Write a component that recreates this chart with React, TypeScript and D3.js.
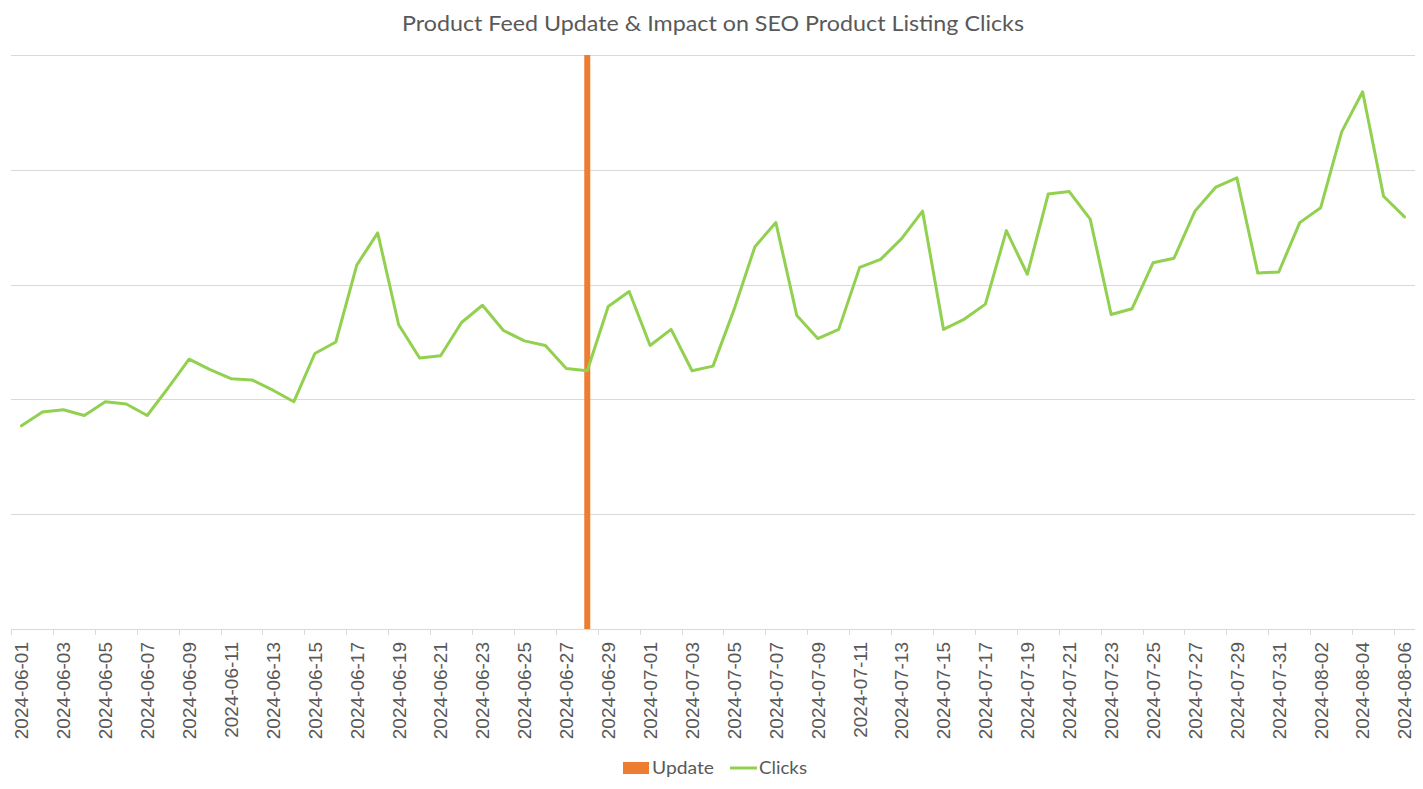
import React, { useEffect } from "react";
import * as d3 from "d3";

const dates: string[] = (() => {
  const out: string[] = [];
  for (let d = 1; d <= 30; d++) out.push(`2024-06-${String(d).padStart(2, "0")}`);
  for (let d = 1; d <= 31; d++) out.push(`2024-07-${String(d).padStart(2, "0")}`);
  for (let d = 1; d <= 6; d++) out.push(`2024-08-${String(d).padStart(2, "0")}`);
  return out;
})();

const clicks: number[] = [
  177, 189, 191, 186, 198, 196, 186, 210, 235, 226,
  218, 217, 208, 198, 240, 250, 317, 345, 265, 236,
  238, 267, 282, 260, 251, 247, 227, 225, 281, 294,
  247, 261, 225, 229, 278, 333, 354, 273, 253, 261,
  315, 322, 340, 364, 261, 270, 283, 347, 309, 379,
  381, 357, 274, 279, 319, 323, 364, 385, 393, 310,
  311, 354, 367, 433, 468, 377, 359,
];

const updateDate = "2024-06-28";
const updateValue = 500;

const yTicks: number[] = [0, 100, 200, 300, 400, 500];

const W = 1423;
const H = 789;
const left = 11;
const right = 1415;
const top = 55;
const bottom = 629;

export default function App() {
  useEffect(() => {
    document.body.style.margin = "0";
  }, []);

  const x = d3.scaleBand<string>().domain(dates).range([left, right]).padding(0);
  const y = d3.scaleLinear().domain([0, 500]).range([bottom, top]);
  const bw = x.bandwidth();
  const cx = (d: string) => (x(d) as number) + bw / 2;

  const line = d3
    .line<number>()
    .x((_, i) => cx(dates[i]))
    .y((v) => y(v));

  const grey = "#595959";
  const gridColor = "#D9D9D9";
  const green = "#92D050";
  const orange = "#ED7D31";

  const barW = 6;

  return (
    <svg
      width={W}
      height={H}
      style={{ position: "absolute", left: 0, top: 0, display: "block", background: "#fff" }}
    >
      <rect x={0} y={0} width={W} height={H} fill="#fff" />
      <text
        x={(left + right) / 2}
        y={31}
        textAnchor="middle"
        fontFamily="Lato, 'Open Sans', sans-serif"
        fontSize={21}
        fill={grey}
        textLength={622}
        lengthAdjust="spacingAndGlyphs"
      >
        Product Feed Update &amp; Impact on SEO Product Listing Clicks
      </text>

      {yTicks.map((t) => (
        <line
          key={t}
          x1={left}
          x2={right}
          y1={Math.round(y(t)) + 0.5}
          y2={Math.round(y(t)) + 0.5}
          stroke={gridColor}
          strokeWidth={1}
        />
      ))}

      {dates.map((d, i) =>
        i % 2 === 0 ? (
          <line
            key={"tk" + d}
            x1={Math.round(x(d) as number) + 0.5}
            x2={Math.round(x(d) as number) + 0.5}
            y1={bottom}
            y2={bottom + 6}
            stroke={gridColor}
            strokeWidth={1}
          />
        ) : null
      )}

      <rect
        x={cx(updateDate) - barW / 2}
        y={y(updateValue)}
        width={barW}
        height={y(0) - y(updateValue)}
        fill={orange}
      />

      <path
        d={line(clicks) || ""}
        fill="none"
        stroke={green}
        strokeWidth={3}
        strokeLinejoin="round"
        strokeLinecap="round"
      />

      {dates.map((d, i) =>
        i % 2 === 0 ? (
          <text
            key={"lb" + d}
            transform={`translate(${cx(d)},${bottom + 13}) rotate(-90)`}
            textAnchor="end"
            dy="0.36em"
            fontFamily="'Liberation Sans', Arial, sans-serif"
            fontSize={19}
            fill={grey}
          >
            {d}
          </text>
        ) : null
      )}

      <g fontFamily="Lato, 'Open Sans', sans-serif" fontSize={18} fill={grey}>
        <rect x={623} y={762} width={26} height={12} fill={orange} />
        <text x={652} y={774} textLength={62} lengthAdjust="spacingAndGlyphs">
          Update
        </text>
        <line x1={730} x2={757} y1={768} y2={768} stroke={green} strokeWidth={3} />
        <text x={759} y={774} textLength={48} lengthAdjust="spacingAndGlyphs">
          Clicks
        </text>
      </g>
    </svg>
  );
}
